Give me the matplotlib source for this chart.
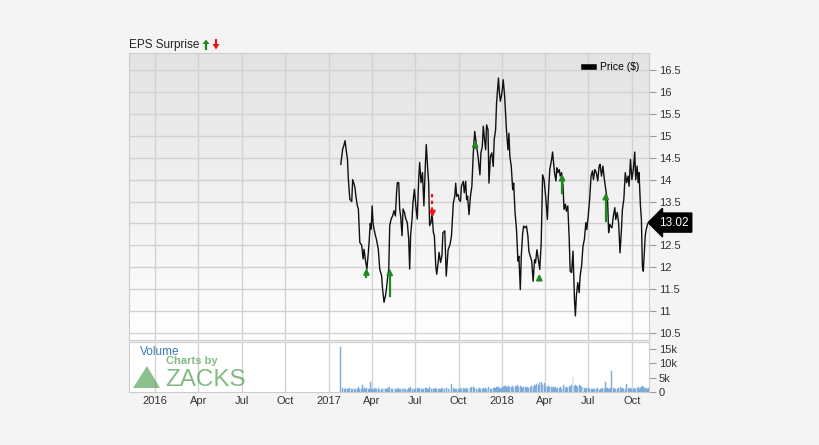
import numpy as np
import matplotlib.pyplot as plt
import matplotlib.dates as mdates
from matplotlib.patches import Polygon
from matplotlib.lines import Line2D

plt.rcParams["font.family"] = ["Liberation Sans", "DejaVu Sans"]

# days counted from 2017-01-01
base = np.datetime64("2017-01-01")

price_days = [
    25, 29, 32, 34, 36, 39, 41, 44, 48, 50,
    53, 55, 57, 60, 62, 65, 69, 71, 72, 74,
    77, 80, 83, 85, 87, 89, 91, 93, 95, 98,
    100, 104, 107, 111, 113, 116, 119, 121, 124, 126,
    128, 131, 134, 137, 140, 142, 144, 147, 149, 151,
    154, 156, 159, 162, 165, 168, 170, 172, 175, 177,
    180, 183, 186, 189, 191, 194, 197, 200, 203, 205,
    208, 210, 212, 215, 217, 220, 222, 225, 227, 230,
    232, 235, 238, 240, 244, 247, 251, 255, 258, 262,
    265, 267, 269, 272, 274, 277, 279, 283, 285, 288,
    290, 292, 295, 298, 301, 304, 307, 311, 314, 318,
    320, 323, 325, 327, 330, 332, 335, 337, 340, 343,
    346, 348, 351, 353, 355, 357, 359, 361, 363, 365,
    367, 370, 372, 374, 377, 379, 381, 384, 387, 389,
    392, 395, 398, 400, 403, 405, 408, 410, 413, 416,
    419, 421, 424, 427, 430, 433, 435, 438, 441, 444,
    447, 450, 453, 457, 460, 462, 465, 469, 471, 473,
    475, 478, 480, 482, 485, 487, 490, 493, 495, 498,
    500, 503, 506, 508, 511, 514, 517, 519, 521, 524,
    527, 529, 532, 535, 538, 541, 543, 546, 549, 552,
    555, 557, 560, 563, 566, 569, 571, 574, 577, 580,
    582, 584, 587, 589, 591, 593, 596, 599, 602, 604,
    607, 610, 613, 616, 618, 621, 624, 627, 630, 632,
    635, 638, 641, 644, 646, 649, 651, 653, 656, 658,
    660, 662, 664, 666, 668, 671, 673,
]

price_vals = [
    14.35, 14.70, 14.80, 14.89, 14.70, 14.47, 14.00, 13.55, 13.50, 14.00,
    13.90, 13.80, 13.60, 13.40, 13.33, 12.57, 12.50, 12.30, 12.19, 12.41,
    12.15, 11.96, 12.34, 12.64, 13.00, 12.87, 13.40, 13.00, 12.87, 12.72,
    12.64, 12.41, 11.96, 11.80, 11.50, 11.20, 11.35, 11.50, 11.80, 11.96,
    12.95, 13.10, 13.17, 13.29, 13.17, 13.63, 13.93, 13.93, 13.33, 13.17,
    12.72, 13.33, 13.25, 13.10, 13.02, 12.64, 11.96, 12.72, 13.10, 13.48,
    13.78, 13.40, 13.10, 14.00, 14.39, 13.93, 14.16, 13.40, 14.32, 14.80,
    14.24, 13.93, 12.95, 13.02, 13.25, 12.79, 12.72, 12.03, 11.84, 12.11,
    12.34, 12.11, 12.26, 12.79, 12.83, 11.80, 12.40, 12.52, 12.71, 13.47,
    13.62, 13.92, 13.62, 13.66, 13.54, 13.50, 13.85, 13.96, 13.70, 13.96,
    13.54, 13.62, 13.20, 13.62, 13.85, 14.61, 15.10, 14.76, 14.53, 14.11,
    14.61, 14.76, 15.22, 14.99, 14.68, 15.25, 15.14, 13.92, 14.53, 14.61,
    14.30, 14.91, 15.14, 15.75, 16.05, 16.32, 15.98, 15.79, 15.90, 16.05,
    16.28, 15.90, 15.52, 15.10, 14.68, 15.06, 14.53, 14.30, 13.77, 13.92,
    13.24, 12.86, 12.14, 12.25, 11.49, 12.25, 12.78, 12.94, 12.90, 12.94,
    12.71, 12.37, 12.25, 12.14, 11.68, 12.17, 12.10, 12.40, 12.17, 11.95,
    12.56, 14.11, 14.00, 13.54, 13.09, 13.62, 14.23, 14.46, 14.63, 14.39,
    14.16, 13.97, 14.27, 14.16, 14.23, 14.08, 14.16, 13.85, 13.32, 13.44,
    13.28, 13.40, 12.64, 11.91, 11.88, 12.37, 11.27, 10.89, 11.34, 11.65,
    11.42, 11.80, 12.03, 12.48, 12.64, 13.02, 12.86, 13.17, 13.55, 14.08,
    14.20, 14.00, 14.23, 14.16, 13.97, 14.31, 14.35, 14.08, 14.31, 14.00,
    13.85, 13.70, 13.47, 12.79, 12.98, 12.94, 12.90, 13.17, 13.36, 13.09,
    13.25, 13.02, 12.33, 12.86, 13.32, 13.55, 14.16, 13.93, 14.08, 13.85,
    14.46, 14.00, 14.23, 14.63, 14.00, 14.31, 13.93, 14.16, 13.40, 13.09,
    12.03, 11.91, 12.33, 12.71, 12.86, 12.98, 13.02,
]

# volume in thousands, same dates as the prices
vol_k = [
    15.8, 1.5, 1.2, 1.0, 1.3, 0.9, 1.1, 1.4, 0.9, 1.0,
    1.2, 0.8, 1.3, 1.1, 1.6, 1.0, 1.2, 2.3, 1.0, 1.4,
    1.2, 1.5, 0.9, 1.1, 3.6, 1.0, 1.2, 0.8, 1.3, 0.9,
    1.0, 1.4, 0.8, 1.1, 1.2, 1.5, 0.9, 1.0, 1.3, 1.2,
    1.8, 1.0, 0.9, 1.3, 1.1, 0.8, 1.5, 1.2, 1.0, 1.1,
    0.9, 1.4, 1.0, 1.2, 0.8, 1.3, 1.1, 1.6, 1.0, 0.9,
    1.2, 1.1, 1.4, 1.0, 1.3, 0.9, 1.2, 1.0, 1.5, 1.4,
    1.0, 1.2, 1.7, 1.1, 1.3, 0.9, 1.2, 1.5, 1.0, 1.1,
    0.9, 1.2, 1.0, 1.3, 1.1, 1.4, 1.2, 1.0, 2.9, 1.3,
    1.1, 0.9, 1.2, 1.0, 0.8, 1.3, 1.1, 1.5, 1.0, 1.2,
    1.4, 1.0, 1.2, 1.3, 1.6, 1.8, 1.5, 1.1, 1.0, 1.3,
    1.2, 1.0, 1.4, 1.1, 1.3, 1.0, 0.9, 1.6, 1.2, 1.1,
    1.3, 1.5, 1.4, 1.7, 1.8, 1.6, 1.4, 1.2, 1.5, 1.9,
    1.8, 2.0, 2.2, 1.7, 1.9, 2.1, 1.6, 1.8, 2.0, 1.5,
    2.2, 1.9, 2.3, 1.8, 2.0, 1.7, 1.5, 1.9, 1.6, 1.4,
    1.8, 1.5, 1.6, 2.0, 1.7, 2.4, 2.1, 2.8, 2.5, 3.0,
    3.4, 2.6, 3.1, 2.2, 1.8, 2.0, 1.6, 1.9, 1.5, 1.7,
    1.4, 1.8, 1.2, 1.5, 1.3, 1.6, 1.1, 2.3, 1.9, 1.4,
    1.6, 1.3, 2.0, 1.7, 2.4, 5.2, 2.2, 2.6, 2.0, 1.8,
    2.5, 2.1, 1.8, 1.6, 1.4, 1.2, 1.5, 1.3, 1.1, 1.0,
    1.2, 0.9, 1.1, 1.0, 1.3, 0.8, 1.2, 1.0, 1.4, 1.1,
    3.5, 1.3, 1.5, 1.2, 1.0, 1.4, 7.4, 1.3, 1.1, 1.0,
    1.2, 1.4, 1.9, 1.1, 1.3, 1.0, 1.2, 2.8, 1.4, 1.1,
    1.3, 1.0, 1.2, 1.5, 1.1, 1.4, 1.6, 1.2, 1.3, 1.8,
    2.0, 1.6, 1.4, 1.2, 1.3, 1.1, 1.5,
]

# EPS surprise arrows: date, start price, end price, beat?
eps_days = [79, 128, 218, 308, 443, 491, 583]
eps_from = [11.78, 11.35, 13.67, 14.72, 11.70, 13.70, 13.06]
eps_to = [11.98, 11.97, 13.14, 14.90, 11.85, 14.13, 13.70]
eps_beat = [True, True, False, True, True, True, True]

last_price = 13.02
price_ticks = [10.5, 11, 11.5, 12, 12.5, 13, 13.5, 14, 14.5, 15, 15.5, 16, 16.5]
price_tick_labels = ["10.5", "11", "11.5", "12", "12.5", "", "13.5", "14",
                     "14.5", "15", "15.5", "16", "16.5"]
vol_ticks = [0, 5, 10, 15]
vol_tick_labels = ["0", "5k", "10k", "15k"]

n = min(len(price_days), len(price_vals), len(vol_k))
dates = base + np.array(price_days[:n]).astype("timedelta64[D]")
prices = np.array(price_vals[:n])
vols = np.array(vol_k[:n])

x_left = base - np.timedelta64(421, "D")
x_right = base + np.timedelta64(674, "D")

green = "#1f8a1f"
red = "#e8141b"
grid_c = "#d2d2d2"
bg = "#f4f4f4"

fig = plt.figure(figsize=(8.2, 4.45), dpi=100, facecolor=bg)
W, H = 820.0, 445.0
L, R = 129 / W, 649 / W
ax = fig.add_axes([L, 1 - 340 / H, R - L, (340 - 53) / H])
axv = fig.add_axes([L, 1 - 392 / H, R - L, (392 - 342) / H])

# gradient background for price panel
grad = np.linspace(0.89, 1.0, 256).reshape(-1, 1)
ax.imshow(np.dstack([grad, grad, grad]), extent=[0, 1, 0, 1], transform=ax.transAxes,
          aspect="auto", zorder=0, interpolation="bilinear")
axv.set_facecolor("white")

month_loc = mdates.MonthLocator(bymonth=[1, 4, 7, 10])


def month_fmt(x, pos=None):
    d = mdates.num2date(x)
    return str(d.year) if d.month == 1 else d.strftime("%b")


for a in (ax, axv):
    a.set_xlim(x_left, x_right)
    a.xaxis.set_major_locator(month_loc)
    a.xaxis.set_major_formatter(plt.FuncFormatter(month_fmt))
    a.grid(axis="x", color=grid_c, lw=1, zorder=1)
    for s in a.spines.values():
        s.set_color("#cccccc")
    a.yaxis.tick_right()
    a.tick_params(axis="y", length=5, color="#999999", labelsize=8,
                  labelcolor="#333333", pad=2)
    a.set_axisbelow(True)

ax.grid(axis="y", color=grid_c, lw=1, zorder=1)
ax.tick_params(axis="x", length=0, labelbottom=False)
axv.tick_params(axis="x", length=0, labelsize=8, labelcolor="#333333", pad=3)

ax.plot(dates, prices, color="#111111", lw=1.0, zorder=3, label="Price ($)")
ax.set_ylim(10.34, 16.89)
ax.set_yticks(price_ticks)
ax.set_yticklabels(price_tick_labels)
ax.set_xlim(x_left, x_right)

for d, y0, y1, beat in zip(eps_days, eps_from, eps_to, eps_beat):
    xd = base + np.timedelta64(d, "D")
    c = green if beat else red
    ls = "-" if beat else (0, (1.5, 1.5))
    ax.plot([xd, xd], [y0, y1 - (0.1 if beat else -0.1)], color=c, lw=1.6,
            ls=ls, zorder=4)
    ax.annotate("", xy=(xd, y1), xytext=(xd, y1 - (0.12 if beat else -0.12)),
                arrowprops=dict(arrowstyle="-|>", color=c, lw=1.2,
                                mutation_scale=9, shrinkA=0, shrinkB=0),
                zorder=5)

ax.legend(handles=[Line2D([], [], color="black", lw=4)], labels=["Price ($)"],
          loc="upper right", frameon=False, fontsize=7.5, handlelength=1.0,
          handletextpad=0.6, borderaxespad=0.5)

ax.annotate(f"{last_price:.2f}", xy=(1.0, last_price),
            xycoords=("axes fraction", "data"), xytext=(7, 0),
            textcoords="offset points", ha="left", va="center", color="white",
            fontsize=8.5, annotation_clip=False, zorder=10,
            bbox=dict(boxstyle="larrow,pad=0.3", fc="black", ec="black"))

axv.bar(dates, vols, width=2.0, color="#8db8e2", edgecolor="#6fa3d6", lw=0.3,
        zorder=2)
axv.set_ylim(0, 17.5)
axv.set_yticks(vol_ticks)
axv.set_yticklabels(vol_tick_labels)

fig.text(L, 1 - 45 / H, "EPS Surprise", fontsize=8.5, color="#222222",
         va="center", ha="left")
# small up / down arrows after the title
fig.patches.append(plt.Polygon(
    [[202.5 / W, 1 - 44 / H], [209.5 / W, 1 - 44 / H], [206 / W, 1 - 39.5 / H]],
    closed=True, transform=fig.transFigure, fc=green, ec="none"))
fig.add_artist(Line2D([206 / W, 206 / W], [1 - 44 / H, 1 - 49 / H], color=green,
                      lw=1.6, transform=fig.transFigure))
fig.patches.append(plt.Polygon(
    [[212.5 / W, 1 - 44 / H], [219.5 / W, 1 - 44 / H], [216 / W, 1 - 49.5 / H]],
    closed=True, transform=fig.transFigure, fc=red, ec="none"))
fig.add_artist(Line2D([216 / W, 216 / W], [1 - 39.5 / H, 1 - 44 / H], color=red,
                      lw=1.6, transform=fig.transFigure))

fig.text(140 / W, 1 - 352 / H, "Volume", fontsize=8.5, color="#3a78b8",
         va="center", ha="left")

# Charts by ZACKS watermark
wm = "#4f9f4f"
tri = Polygon([[133 / W, 1 - 388 / H], [160 / W, 1 - 388 / H], [147 / W, 1 - 366 / H]],
              closed=True, transform=fig.transFigure, fc=wm, ec="none", alpha=0.65)
fig.patches.append(tri)
fig.text(166 / W, 1 - 361 / H, "Charts by", fontsize=8, color=wm, alpha=0.7,
         va="center", ha="left", fontweight="bold")
fig.text(165 / W, 1 - 379.5 / H, "ZACKS", fontsize=17.5, color=wm, alpha=0.7,
         va="center", ha="left")

fig.savefig("out.png", dpi=100, facecolor=bg)
